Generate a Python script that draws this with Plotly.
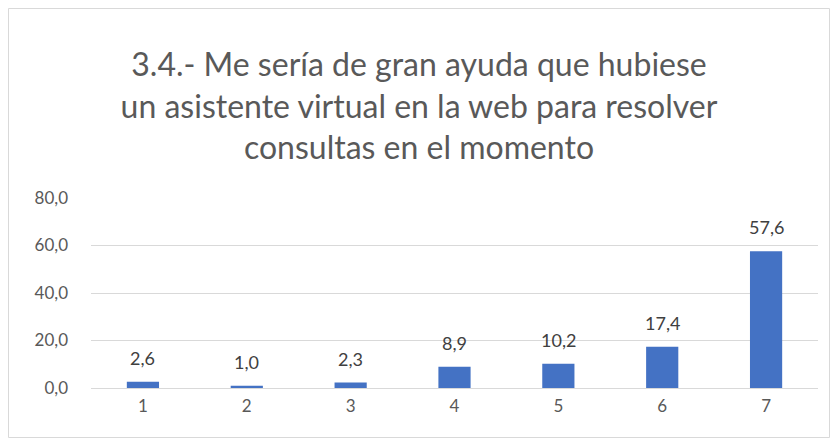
import plotly.graph_objects as go

categories = ["1", "2", "3", "4", "5", "6", "7"]
values = [2.6, 1.0, 2.3, 8.9, 10.2, 17.4, 57.6]
y_ticks = [0, 20, 40, 60, 80]
title_text = ("3.4.- Me sería de gran ayuda que hubiese<br>"
              "un asistente virtual en la web para resolver<br>"
              "consultas en el momento")

FONT = "Lato"
W, H = 822, 430
L, R, T, B = 83, 12, 190, 50
PW, PH = W - L - R, H - T - B

xpos = list(range(1, len(categories) + 1))

fig = go.Figure()
fig.add_trace(go.Bar(
    x=xpos, y=values,
    marker=dict(color="#4472C4", line=dict(width=0)),
    width=0.31,
    hoverinfo="skip",
))

for xp, v in zip(xpos, values):
    fig.add_annotation(
        x=xp, y=v, text=f"{v:.1f}".replace(".", ","),
        showarrow=False, yanchor="bottom", yshift=11,
        font=dict(family=FONT, size=18, color="#404040"),
    )

fig.update_layout(
    width=W, height=H,
    margin=dict(l=L, r=R, t=T, b=B),
    paper_bgcolor="white", plot_bgcolor="white",
    separators=", ",
    showlegend=False,
    title=dict(text=title_text, x=0.5, xanchor="center",
               y=1 - 68 / H, yanchor="top", yref="container",
               font=dict(family=FONT, size=32, color="#595959")),
    xaxis=dict(range=[0.5, len(categories) + 0.5], tickvals=xpos, ticktext=categories,
               showgrid=False, showline=False, ticks="", zeroline=False,
               ticklabelstandoff=6,
               tickfont=dict(family=FONT, size=17, color="#595959")),
    yaxis=dict(range=[0, 80], tickvals=y_ticks, tickformat=".1f",
               showgrid=True, gridcolor="#D9D9D9", gridwidth=1,
               zeroline=True, zerolinecolor="#D9D9D9", zerolinewidth=1,
               showline=False, ticks="", ticklabelstandoff=22,
               tickfont=dict(family=FONT, size=17, color="#595959")),
)

fig.add_shape(type="rect", xref="paper", yref="paper",
              x0=(-L + 0.5) / PW, x1=1 + (R - 0.5) / PW,
              y0=(-B + 0.5) / PH, y1=1 + (T - 0.5) / PH,
              line=dict(color="#D9D9D9", width=1), fillcolor="rgba(0,0,0,0)",
              layer="below")

fig.write_html("out.html")
